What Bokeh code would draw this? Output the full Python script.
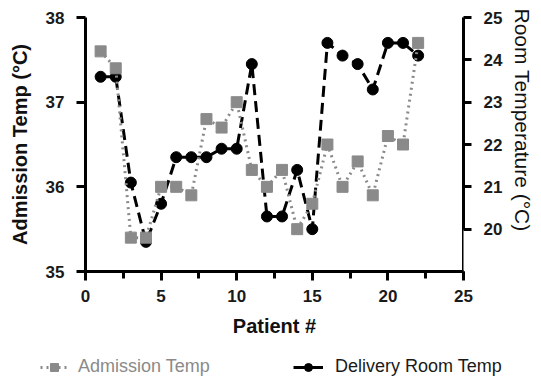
from bokeh.plotting import figure
from bokeh.models import (Range1d, LinearAxis, FixedTicker, SingleIntervalTicker,
                          Span, Legend, LegendItem, Title)
from bokeh.embed import file_html
from bokeh.resources import INLINE

patient = list(range(1, 23))
admission_temp = [37.6, 37.4, 35.4, 35.4, 36.0, 36.0, 35.9, 36.8, 36.7, 37.0, 36.2,
                  36.0, 36.2, 35.5, 35.8, 36.5, 36.0, 36.3, 35.9, 36.6, 36.5, 37.7]
room_temp = [23.6, 23.6, 21.1, 19.7, 20.6, 21.7, 21.7, 21.7, 21.9, 21.9, 23.9,
             20.3, 20.3, 21.4, 20.0, 24.4, 24.1, 23.9, 23.3, 24.4, 24.4, 24.1]
left_ticks = [35, 36, 37, 38]
right_ticks = [20, 21, 22, 23, 24, 25]

FONT = "Liberation Sans"
GRAY = "#8a8a8a"

p = figure(width=541, height=349, output_backend="svg", toolbar_location=None,
           x_range=Range1d(0, 25), y_range=Range1d(35, 38),
           min_border_left=85, min_border_right=78, min_border_top=17,
           min_border_bottom=78, x_axis_label="Patient #",
           y_axis_label="Admission Temp (°C)")
p.extra_y_ranges = {"room": Range1d(19, 25)}
p.grid.visible = False
p.outline_line_color = None
p.background_fill_color = "white"
p.border_fill_color = "white"

def style_axis(ax):
    ax.axis_line_width = 3
    ax.axis_line_color = "black"
    ax.major_tick_line_width = 3
    ax.major_tick_line_color = "black"
    ax.minor_tick_line_width = 3
    ax.minor_tick_line_color = "black"
    ax.major_tick_in = 0
    ax.major_tick_out = 9
    ax.minor_tick_in = 0
    ax.minor_tick_out = 7
    ax.major_label_text_font = FONT
    ax.major_label_text_font_size = "17px"
    ax.major_label_text_font_style = "bold"
    ax.major_label_text_color = "#1a1a1a"
    ax.axis_label_text_font = FONT
    ax.axis_label_text_font_size = "20px"
    ax.axis_label_text_font_style = "bold"
    ax.axis_label_text_color = "#111111"

xa = p.xaxis[0]
style_axis(xa)
xa.ticker = SingleIntervalTicker(interval=5, num_minor_ticks=2)
xa.major_label_standoff = 9
xa.axis_label_standoff = 10

ya = p.yaxis[0]
style_axis(ya)
ya.ticker = FixedTicker(ticks=left_ticks)
ya.major_label_standoff = 12
ya.axis_label_standoff = 12

ra = LinearAxis(y_range_name="room", bounds=(20, 25))
style_axis(ra)
ra.ticker = FixedTicker(ticks=right_ticks)
ra.major_tick_out = 8
ra.major_label_standoff = 12
p.add_layout(ra, "right")
p.add_layout(Title(text="Room Temperature (°C)", align="left", offset=-9,
                   text_font=FONT, text_font_size="21px",
                   text_font_style="normal", text_color="#111111",
                   standoff=11), "right")
p.add_layout(Span(location=25, dimension="height", line_color="black",
                  line_width=3))

room_line = p.line(patient, room_temp, y_range_name="room", line_color="black",
                   line_width=3, line_dash="11 6")
room_pts = p.scatter(patient, room_temp, y_range_name="room", marker="circle",
                     size=11, fill_color="black", line_color="black")
adm_line = p.line(patient, admission_temp, line_color=GRAY, line_width=3,
                  line_dash="2 4")
adm_pts = p.scatter(patient, admission_temp, marker="square", size=11,
                    fill_color=GRAY, line_color=GRAY)

# legend strip below the chart (separate root, no axes); its renderers use the
# same data but the strip's ranges keep them out of view, so only the legend
# glyphs show
q = figure(width=541, height=28, output_backend="svg", toolbar_location=None,
           x_range=Range1d(-3, -2), y_range=Range1d(0, 1),
           x_axis_location=None, y_axis_location=None,
           min_border=0, min_border_left=0, min_border_right=0,
           min_border_top=0, min_border_bottom=0)
q.grid.visible = False
q.outline_line_color = None
lg_adm_line = q.line(patient, admission_temp, line_color=GRAY, line_width=3,
                     line_dash="2 4")
lg_adm_pts = q.scatter(patient, admission_temp, marker="square", size=11,
                       fill_color=GRAY, line_color=GRAY)
lg_room_line = q.line(patient, room_temp, line_color="black", line_width=3)
lg_room_pts = q.scatter(patient, room_temp, marker="circle", size=10,
                        fill_color="black", line_color="black")

def make_legend(items, loc, color, width, standoff):
    lg = Legend(items=items, location=loc, orientation="horizontal",
                padding=0, margin=0, spacing=0,
                border_line_color=None, background_fill_alpha=0,
                glyph_width=width, glyph_height=20, label_standoff=standoff,
                label_text_font=FONT, label_text_font_size="18px",
                label_text_color=color, label_height=20)
    q.add_layout(lg, "center")

make_legend([LegendItem(label="Admission Temp",
                        renderers=[lg_adm_line, lg_adm_pts])],
            (40, 0), GRAY, 28, 10)
make_legend([LegendItem(label="Delivery Room Temp",
                        renderers=[lg_room_line, lg_room_pts])],
            (293, 0), "#1a1a1a", 30, 12)

open("out.html", "w").write(file_html([p, q], INLINE))
